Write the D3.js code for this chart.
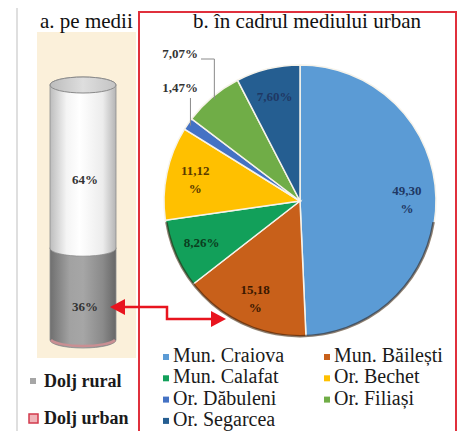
<!DOCTYPE html>
<html>
<head>
<meta charset="utf-8">
<script src="https://cdn.jsdelivr.net/npm/d3@7"></script>
<style>
  body { margin: 0; background: #fff; }
  svg { display: block; }
</style>
</head>
<body>
<div class="chart"></div>
<script>
// ---- data ----
var mediuLabels = ["Dolj rural", "Dolj urban"];
var mediuValues = [36, 64];

var orase = ["Mun. Craiova", "Mun. Băilești", "Mun. Calafat", "Or. Bechet",
             "Or. Dăbuleni", "Or. Filiași", "Or. Segarcea"];
var ponderi = [49.30, 15.18, 8.26, 11.12, 1.47, 7.07, 7.60];

// ---- styles ----
var sliceColors = ["#5B9BD5", "#C8601A", "#12A05A", "#FFC000", "#4472C4", "#70AD47", "#255E91"];
var labelColors = ["#1F3864", "#3A1800", "#0B3D1E", "#5A3A00", "#333", "#333", "#1F3864"];
var serif = "'Liberation Serif', 'Times New Roman', serif";

var svgWidth = 460, svgHeight = 431;

var svg = d3.select(".chart").append("svg")
    .attr("width", svgWidth)
    .attr("height", svgHeight);

var defs = svg.append("defs");

function hGrad(id, stops) {
    var g = defs.append("linearGradient").attr("id", id)
        .attr("x1", "0%").attr("x2", "100%").attr("y1", "0%").attr("y2", "0%");
    stops.forEach(s => g.append("stop").attr("offset", s[0]).attr("stop-color", s[1]));
}
hGrad("gradWhite", [["0%", "#bdbdbd"], ["25%", "#f4f4f4"], ["45%", "#ffffff"], ["80%", "#ececec"], ["100%", "#b5b5b5"]]);
hGrad("gradGray", [["0%", "#6f6f6f"], ["30%", "#a2a2a2"], ["50%", "#a6a6a6"], ["80%", "#8a8a8a"], ["100%", "#676767"]]);
hGrad("gradCap", [["0%", "#bcbcbc"], ["50%", "#dedede"], ["100%", "#c4c4c4"]]);

/*************** panel a: cylinder ***************/
// frame line + beige background
svg.append("line")
    .attr("x1", 17).attr("x2", 17).attr("y1", 8).attr("y2", svgHeight)
    .attr("stroke", "#d4d4d4").attr("stroke-width", 1.5);
svg.append("rect")
    .attr("x", 37).attr("y", 32).attr("width", 99).attr("height", 326)
    .attr("fill", "#FBF0DA");

svg.append("text")
    .attr("x", 40).attr("y", 28)
    .attr("font-family", serif).attr("font-size", 21)
    .attr("fill", "#111")
    .text("a. pe medii");

var cylX = 83, cylRx = 33, cylRy = 8;
var yCyl = d3.scaleLinear().domain([0, 100]).range([340, 85]);

var stackData = [];
var acc = 0;
mediuValues.forEach((v, i) => {
    stackData.push({ label: mediuLabels[i], value: v, y0: acc, y1: acc + v });
    acc += v;
});
var segFills = ["url(#gradGray)", "url(#gradWhite)"];

function segPath(d) {
    var yb = yCyl(d.y0), yt = yCyl(d.y1);
    return `M${cylX - cylRx},${yt} A${cylRx},${cylRy} 0 0 1 ${cylX + cylRx},${yt}` +
           ` L${cylX + cylRx},${yb} A${cylRx},${cylRy} 0 0 1 ${cylX - cylRx},${yb} Z`;
}

var cylGroup = svg.append("g");
cylGroup.selectAll("path.seg")
    .data(stackData)
    .join("path")
    .attr("class", "seg")
    .attr("d", segPath)
    .attr("fill", (d, i) => segFills[i])
    .attr("stroke", "#8d8d8d")
    .attr("stroke-width", 0.8);

// pinkish bottom rim
cylGroup.append("path")
    .attr("d", `M${cylX - cylRx + 1},${yCyl(0)} A${cylRx},${cylRy} 0 0 0 ${cylX + cylRx - 1},${yCyl(0)}`)
    .attr("fill", "none").attr("stroke", "#c98f93").attr("stroke-width", 2.5);

// top cap
cylGroup.append("ellipse")
    .attr("cx", cylX).attr("cy", yCyl(100))
    .attr("rx", cylRx).attr("ry", cylRy)
    .attr("fill", "url(#gradCap)")
    .attr("stroke", "#8a8a8a").attr("stroke-width", 1);

cylGroup.selectAll("text.val")
    .data(stackData)
    .join("text")
    .attr("class", "val")
    .attr("x", cylX + 2)
    .attr("y", d => yCyl((d.y0 + d.y1) / 2) + 17)
    .attr("text-anchor", "middle")
    .attr("font-family", serif).attr("font-size", 13).attr("font-weight", "bold")
    .attr("fill", "#333")
    .text(d => d.value + "%");

// legend a
var legA = svg.append("g");
legA.append("rect").attr("x", 30).attr("y", 378).attr("width", 6).attr("height", 6).attr("fill", "#a6a6a6");
legA.append("rect").attr("x", 29).attr("y", 414).attr("width", 9).attr("height", 9)
    .attr("fill", "#f0b4b9").attr("stroke", "#d23a4c").attr("stroke-width", 1.5);
legA.selectAll("text")
    .data(mediuLabels)
    .join("text")
    .attr("x", 44)
    .attr("y", (d, i) => 387 + i * 37)
    .attr("font-family", serif).attr("font-size", 18).attr("font-weight", "bold")
    .attr("fill", "#1a1a1a")
    .text(d => d);

/*************** panel b: pie ***************/
svg.append("rect")
    .attr("x", 139).attr("y", 12).attr("width", 317).attr("height", 440)
    .attr("fill", "none").attr("stroke", "#E0303C").attr("stroke-width", 2);

svg.append("text")
    .attr("x", 307).attr("y", 28)
    .attr("text-anchor", "middle")
    .attr("font-family", serif).attr("font-size", 21)
    .attr("fill", "#111")
    .text("b. în cadrul mediului urban");

var pieX = 300, pieY = 201, radius = 136;
var pieData = orase.map((o, i) => ({ name: o, value: ponderi[i], idx: i }));
var pie = d3.pie().sort(null).value(d => d.value);
var arcs = pie(pieData);
var arc = d3.arc().innerRadius(0).outerRadius(radius);
var labelArc = d3.arc().innerRadius(107).outerRadius(107);

var pieGroup = svg.append("g").attr("transform", `translate(${pieX},${pieY})`);

pieGroup.selectAll("path.slice")
    .data(arcs)
    .join("path")
    .attr("class", "slice")
    .attr("d", arc)
    .attr("fill", d => sliceColors[d.data.idx])
    .attr("stroke", "#f6f3ea")
    .attr("stroke-width", 1.5);

// 3D-ish dark bottom rim
pieGroup.append("path")
    .attr("d", d3.arc().innerRadius(radius - 2).outerRadius(radius + 0.5)
        .startAngle(Math.PI * 0.55).endAngle(Math.PI * 1.45)())
    .attr("fill", "rgba(50,25,10,0.55)");

function fmt(v) { return d3.format(".2f")(v).replace(".", ","); }

var outside = ["Or. Dăbuleni", "Or. Filiași"];
var wrapped = ["Mun. Craiova", "Mun. Băilești", "Or. Bechet"];

arcs.forEach(a => {
    var name = a.data.name;
    var col = labelColors[a.data.idx];
    if (outside.indexOf(name) >= 0) return;
    var c = labelArc.centroid(a);
    var t = pieGroup.append("text")
        .attr("text-anchor", "middle")
        .attr("font-family", serif).attr("font-size", 13).attr("font-weight", "bold")
        .attr("fill", col);
    if (wrapped.indexOf(name) >= 0) {
        t.append("tspan").attr("x", c[0]).attr("y", c[1] - 4).text(fmt(a.data.value));
        t.append("tspan").attr("x", c[0]).attr("y", c[1] + 14).text("%");
    } else {
        t.attr("x", c[0]).attr("y", c[1] + 4).text(fmt(a.data.value) + "%");
    }
});

// outside labels with leader lines
var outsidePos = { "Or. Filiași": { x: -102, y: -143 }, "Or. Dăbuleni": { x: -102, y: -109 } };
arcs.forEach(a => {
    var name = a.data.name;
    if (outside.indexOf(name) < 0) return;
    var mid = (a.startAngle + a.endAngle) / 2;
    var ex = Math.sin(mid) * (radius - 3), ey = -Math.cos(mid) * (radius - 3);
    var p = outsidePos[name];
    var pts;
    if (name === "Or. Filiași") {
        pts = [[ex, ey], [ex, p.y + 1], [p.x + 3, p.y + 1]];
    } else {
        pts = [[ex, ey], [ex, p.y + 6]];
    }
    pieGroup.append("path")
        .attr("d", d3.line()(pts))
        .attr("fill", "none").attr("stroke", "#8a8a8a").attr("stroke-width", 1);
    pieGroup.append("text")
        .attr("x", p.x).attr("y", p.y)
        .attr("text-anchor", "end")
        .attr("font-family", serif).attr("font-size", 13).attr("font-weight", "bold")
        .attr("fill", "#333")
        .text(fmt(a.data.value) + "%");
});

// legend b
var legB = svg.append("g");
var legItems = legB.selectAll("g")
    .data(pieData)
    .join("g")
    .attr("transform", (d, i) => `translate(${i % 2 === 0 ? 163 : 324},${362 + Math.floor(i / 2) * 21.3})`);
legItems.append("rect")
    .attr("x", 0).attr("y", -8).attr("width", 6).attr("height", 6)
    .attr("fill", d => sliceColors[d.idx]);
legItems.append("text")
    .attr("x", 10).attr("y", 0)
    .attr("font-family", serif).attr("font-size", 20)
    .attr("fill", "#1a1a1a")
    .text(d => d.name);

/*************** connector arrow ***************/
var arrowCol = "#E8141E";
svg.append("path")
    .attr("d", d3.line()([[124, 307], [167, 307], [167, 319], [212, 319]]))
    .attr("fill", "none").attr("stroke", arrowCol).attr("stroke-width", 2.5);
svg.append("path")
    .attr("d", "M110,307 L125,299 L125,315 Z")
    .attr("fill", arrowCol);
svg.append("path")
    .attr("d", "M226,319 L211,311 L211,327 Z")
    .attr("fill", arrowCol);
</script>
</body>
</html>
